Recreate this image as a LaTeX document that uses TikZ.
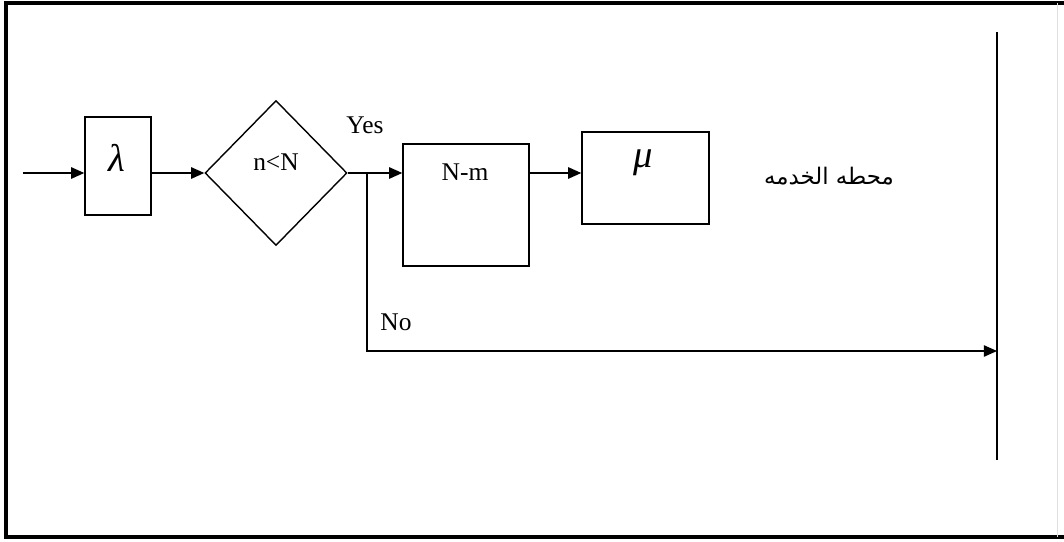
\documentclass[tikz,border=0pt]{standalone}
\usepackage{fontspec}
\setmainfont{Liberation Serif}
\newfontfamily\arabicfont[Script=Arabic]{DejaVu Sans}
\TeXXeTstate=1
\usetikzlibrary{shapes.geometric,arrows.meta}
\begin{document}
\begin{tikzpicture}[x=0.02cm, y=-0.02cm,
  every node/.style={font=\fontsize{14.5}{16}\selectfont},
  block/.style={draw, line width=0.8pt, inner sep=0pt},
  decision/.style={draw, diamond, line width=0.8pt, inner sep=0pt},
  flow/.style={line width=0.8pt, -{Triangle[length=7.5pt,width=6.5pt]}},
  plain/.style={line width=0.8pt},
  greek/.style={font=\fontsize{22}{24}\itshape},
  frame/.style={line width=2pt, line cap=rect}]
\useasboundingbox (0,0) rectangle (1064,541);

% outer frame
\draw[frame] (1064,3) -- (6,3) -- (6,537) -- (1064,537);
\draw[gray!25, line width=0.4pt] (1057,3) -- (1057,537);

% blocks
\node[block, minimum width=1.32cm, minimum height=1.96cm] (lam) at (118,166) {};
\node[greek] (lamtxt) at (117,158) {λ};
\node[decision, minimum width=2.84cm, minimum height=2.9cm] (dia) at (276,173) {};
\node (diatxt) at (276,162) {n<N};
\node[block, minimum width=2.52cm, minimum height=2.44cm] (nm) at (466,205) {};
\node (nmtxt) at (465,172) {N-m};
\node[block, minimum width=2.54cm, minimum height=1.84cm] (mu) at (645.5,178) {};
\node[greek] (mutxt) at (643,163) {μ};
\node[font=\fontsize{13}{15}\selectfont] (station) at (829,176) {\arabicfont\beginR محطه الخدمه\endR};

% labels
\node (yes) at (365,125) {Yes};
\node (no) at (396,322) {No};

% connection points
\coordinate (src) at (23,173);
\coordinate (br) at (367,173);
\coordinate (bartop) at (997,32);
\coordinate (barbot) at (997,460);
\coordinate (bar) at (997,351);

% connectors
\draw[flow] (src) -- (src -| lam.west);
\draw[flow] (lam.east |- dia.west) -- (dia.west);
\draw[plain] (dia.east) -- (br);
\draw[flow] (br) -- (nm.west |- br);
\draw[flow] (nm.east |- br) -- (mu.west |- br);
\draw[flow] (br) |- (bar);
\draw[plain] (bartop) -- (barbot);
\end{tikzpicture}
\end{document}
